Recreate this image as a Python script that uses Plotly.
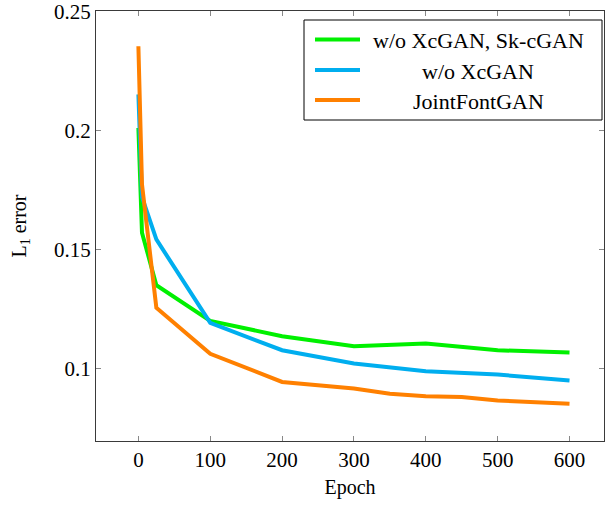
import plotly.graph_objects as go

epochs_green = [0, 5, 25, 100, 200, 300, 400, 500, 600]
err_green = [0.201, 0.157, 0.135, 0.120, 0.1136, 0.1094, 0.1105, 0.1077, 0.1067]

epochs_blue = [0, 5, 25, 100, 200, 300, 400, 500, 600]
err_blue = [0.2151, 0.172, 0.1542, 0.1192, 0.1077, 0.1021, 0.0989, 0.0975, 0.0950]

epochs_orange = [0, 5, 25, 100, 200, 300, 350, 400, 450, 500, 600]
err_orange = [0.2353, 0.1773, 0.1255, 0.1062, 0.0944, 0.0916, 0.0894, 0.0884, 0.0881, 0.0866, 0.0852]

names = ["w/o XcGAN, Sk-cGAN", "w/o XcGAN", "JointFontGAN"]
colors = ["#00f000", "#00aeef", "#ff8000"]

x_ticks = [0, 100, 200, 300, 400, 500, 600]
y_ticks = [0.1, 0.15, 0.2, 0.25]
y_tick_labels = ["0.1", "0.15", "0.2", "0.25"]

font = "Liberation Serif"

W, H = 606, 508
ML, MR, MT, MB = 96, 2, 11, 67
PW, PH = W - ML - MR, H - MT - MB


def px(xpix):
    return (xpix - ML) / PW


def py(ypix):
    return (H - MB - ypix) / PH


fig = go.Figure()
for xs, ys, n, c in zip([epochs_green, epochs_blue, epochs_orange],
                        [err_green, err_blue, err_orange], names, colors):
    fig.add_trace(go.Scatter(x=xs, y=ys, mode="lines", name=n, showlegend=False,
                             line=dict(color=c, width=4)))

axis_common = dict(showgrid=False, zeroline=False, showline=True, mirror="ticks",
                   linecolor="#3a3a3a", linewidth=1, ticks="inside", ticklen=5,
                   tickcolor="#888888", automargin=False, ticklabeloverflow="allow",
                   tickfont=dict(family=font, size=21, color="black"))

# manual legend (centered text, like the reference)
shapes = [dict(type="rect", xref="paper", yref="paper",
               x0=px(304), x1=px(602), y0=py(120), y1=py(20),
               line=dict(color="black", width=1), fillcolor="white", layer="above")]
annotations = []
row_y = [39.5, 70, 100]
for n, c, ry in zip(names, colors, row_y):
    shapes.append(dict(type="line", xref="paper", yref="paper",
                       x0=px(315), x1=px(360), y0=py(ry), y1=py(ry),
                       line=dict(color=c, width=4), layer="above"))
    annotations.append(dict(text=n, xref="paper", yref="paper", x=px(478), y=py(ry + 1),
                            xanchor="center", yanchor="middle", showarrow=False,
                            font=dict(family=font, size=22, color="black")))

fig.update_layout(
    width=W, height=H,
    margin=dict(l=ML, r=MR, t=MT, b=MB),
    paper_bgcolor="white", plot_bgcolor="white",
    font=dict(family=font, size=20, color="black"),
    xaxis=dict(range=[-59, 648], tickvals=x_ticks,
               title=dict(text="Epoch", font=dict(family=font, size=20), standoff=8),
               **axis_common),
    yaxis=dict(range=[0.0696, 0.2501], tickvals=y_ticks, ticktext=y_tick_labels,
               title=dict(text="L<sub>1</sub> error", font=dict(family=font, size=20), standoff=22),
               **axis_common),
    shapes=shapes,
    annotations=annotations,
    showlegend=False,
)

fig.write_html("out.html", config={"displayModeBar": False},
               post_script="document.body.style.margin='0';document.body.style.padding='0';")
